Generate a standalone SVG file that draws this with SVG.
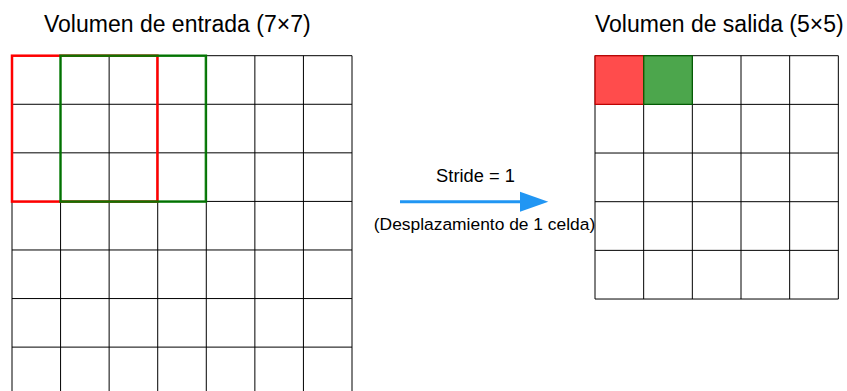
<svg xmlns="http://www.w3.org/2000/svg" width="847" height="391" viewBox="0 0 847 391">
<style>
.title{font-family:"Liberation Sans",Arial,sans-serif;font-size:23px;fill:#000}
.lbl{font-family:"Liberation Sans",Arial,sans-serif;fill:#000;text-anchor:middle}
.grid{fill:none;stroke:#000;stroke-width:1}
.win{fill:none;stroke-width:2.5}
</style>
<rect width="847" height="391" fill="#fff"/>
<g id="input-volume">
<text class="title" x="44" y="32.3">Volumen de entrada (7×7)</text>
<path class="grid" d="M12,55.7V395.7M60.57,55.7V395.7M109.14,55.7V395.7M157.71,55.7V395.7M206.29,55.7V395.7M254.86,55.7V395.7M303.43,55.7V395.7M352,55.7V395.7M12,55.7H352M12,104.27H352M12,152.84H352M12,201.41H352M12,249.98H352M12,298.55H352M12,347.12H352M12,395.69H352"/>
</g>
<g id="window-red">
<rect class="win" x="12" y="55.7" width="145.4" height="145.9" stroke="#ff0000"/>
</g>
<g id="window-green">
<rect class="win" x="60.5" y="55.7" width="145.4" height="145.9" stroke="#007800" stroke-opacity="0.92"/>
</g>
<g id="output-volume">
<text class="title" x="595" y="32.3">Volumen de salida (5×5)</text>
<path class="grid" d="M595,55.7V299.03M643.67,55.7V299.03M692.33,55.7V299.03M741,55.7V299.03M789.67,55.7V299.03M838.33,55.7V299.03M595,55.7H838.33M595,104.37H838.33M595,153.03H838.33M595,201.7H838.33M595,250.37H838.33M595,299.03H838.33"/>
<rect x="595" y="55.7" width="48.67" height="48.67" fill="#ff0000" fill-opacity="0.7" stroke="#cc0000" stroke-width="1"/>
<rect x="643.67" y="55.7" width="48.67" height="48.67" fill="#008000" fill-opacity="0.7" stroke="#006000" stroke-width="1"/>
</g>
<g id="connectors">
<line x1="400" y1="201.7" x2="522" y2="201.7" stroke="#2196f3" stroke-width="3"/>
<polygon points="520,191.7 548.3,201.7 520,211.7" fill="#2196f3"/>
<text class="lbl" x="475.5" y="182" font-size="18.3">Stride = 1</text>
<text class="lbl" x="484.5" y="230" font-size="17.4">(Desplazamiento de 1 celda)</text>
</g>
</svg>
